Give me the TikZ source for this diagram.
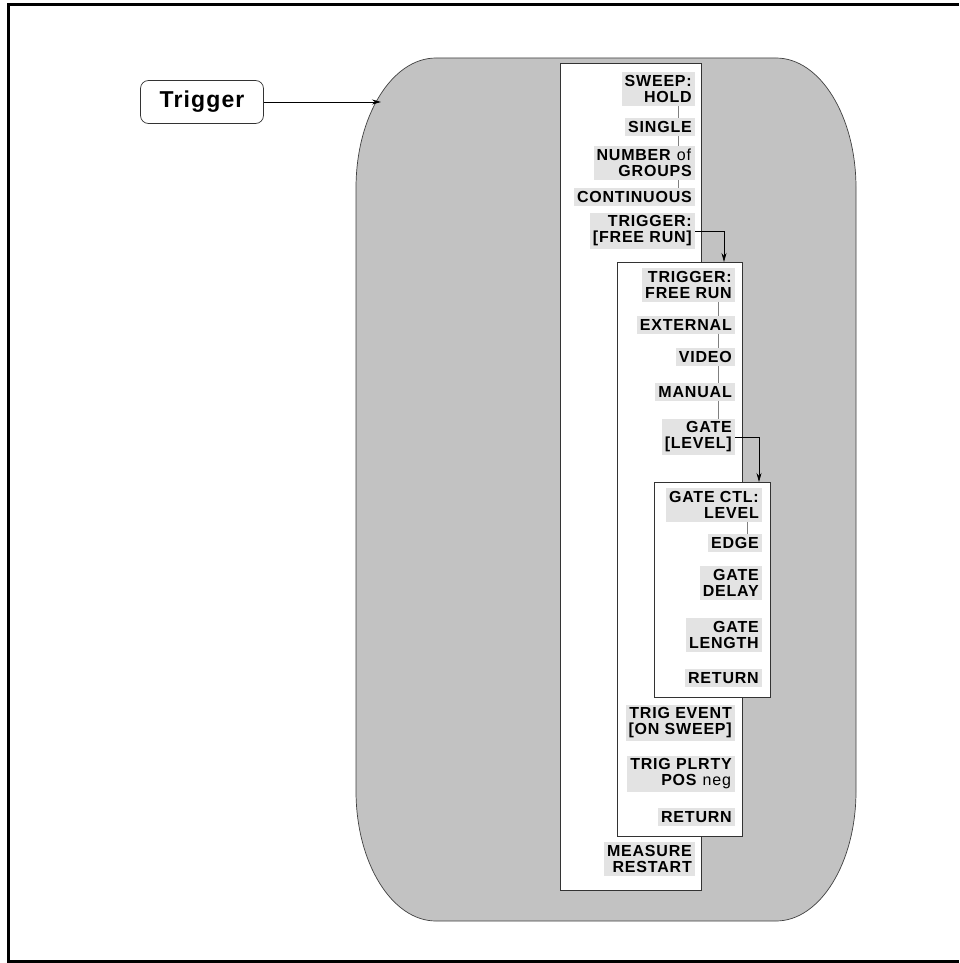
\documentclass[tikz,border=0pt]{standalone}
\usepackage{fontspec}
\setmainfont{Liberation Sans}[LetterSpace=5]
\usepackage{xcolor}
\usepackage{tikz}
\usetikzlibrary{positioning,arrows.meta}

\begin{document}
\begin{tikzpicture}[x=1pt, y=-1pt,
  menu/.style={draw=black!80, fill=white, line width=0.8pt, rectangle,
    inner sep=0pt, outer sep=0pt},
  key/.style={fill=black!11, anchor=east, align=right, inner sep=3pt,
    font=\fontsize{16}{16}\selectfont\bfseries},
  link/.style={draw=black!50, line width=0.7pt},
  arrow/.style={line width=0.7pt, ->, >={Stealth[length=9pt,width=5pt]}}
]
  \useasboundingbox (0,0) rectangle (959,963);
  \draw[line width=3pt] (959,4.5) -- (8.5,4.5) -- (8.5,961.5) -- (959,961.5);

  \draw[draw=black!75, fill=black!24, line width=0.7pt]
    (356,188) .. controls (356,116) and (392,58) .. (436,58) -- (776,58)
    .. controls (820,58) and (856,116) .. (856,188) -- (856,791)
    .. controls (856,863) and (820,921) .. (776,921) -- (436,921)
    .. controls (392,921) and (356,863) .. (356,791) -- cycle;

  \node[draw=black!80, fill=white, rounded corners=8pt, line width=0.7pt,
    minimum width=123pt, minimum height=43pt,
    font=\fontsize{23}{23}\selectfont\bfseries] (trig) at (202,102) {Trigger};
  \coordinate (entry) at (381,102);
  \draw[arrow] (trig) -- (entry);

  \node[menu, minimum width=141pt, minimum height=827pt] (sweepmenu) at (630.5,476.5) {};
  \node[key] (sweep)   at (695,89)  {SWEEP:\\HOLD};
  \node[key] (single)  at (695,127) {SINGLE};
  \node[key] (groups)  at (695,163) {NUMBER \textmd{of}\\GROUPS};
  \node[key] (cont)    at (695,197) {CONTINUOUS};
  \node[key] (trigA)   at (695,231) {TRIGGER:\\{[FREE RUN]}};
  \node[key] (measure) at (695,859) {MEASURE\\RESTART};

  \node[menu, minimum width=125pt, minimum height=574pt] (trigmenu) at (679.5,549) {};
  \node[key] (trigB)  at (735,285) {TRIGGER:\\FREE RUN};
  \node[key] (ext)    at (735,325) {EXTERNAL};
  \node[key] (video)  at (735,357) {VIDEO};
  \node[key] (manual) at (735,392) {MANUAL};
  \node[key] (gate)   at (735,437) {GATE\\{[LEVEL]}};
  \node[key] (event)  at (735,723) {TRIG EVENT\\{[ON SWEEP]}};
  \node[key] (plrty)  at (735,774) {TRIG PLRTY\\POS \textmd{neg}};
  \node[key] (retB)   at (735,817) {RETURN};

  \node[menu, minimum width=116pt, minimum height=215pt] (gatemenu) at (712,589.5) {};
  \node[key] (gatectl) at (762,505) {GATE CTL:\\LEVEL};
  \node[key] (edge)    at (762,543) {EDGE};
  \node[key] (delay)   at (762,583) {GATE\\DELAY};
  \node[key] (length)  at (762,635) {GATE\\LENGTH};
  \node[key] (retC)    at (762,678) {RETURN};

  \coordinate (lnA) at (678,0);
  \coordinate (lnB) at (718,0);
  \coordinate (lnC) at (747,0);
  \foreach \a/\b in {sweep/single, single/groups, groups/cont}
    \draw[link] (\a.south -| lnA) -- (\b.north -| lnA);
  \foreach \a/\b in {trigB/ext, ext/video, video/manual, manual/gate}
    \draw[link] (\a.south -| lnB) -- (\b.north -| lnB);
  \draw[link] (gatectl.south -| lnC) -- (edge.north -| lnC);

  \coordinate (inB) at (724,262);
  \coordinate (inC) at (759,482);
  \draw[arrow] (trigA.east) -| (inB);
  \draw[arrow] (gate.east) -| (inC);
\end{tikzpicture}
\end{document}
